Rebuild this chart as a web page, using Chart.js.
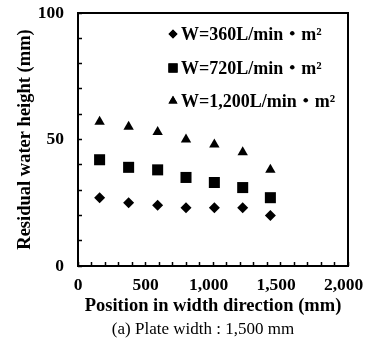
<!DOCTYPE html>
<html>
<head>
<meta charset="utf-8">
<script src="https://cdn.jsdelivr.net/npm/chart.js@4.4.0/dist/chart.umd.min.js"></script>
<style>
  html, body { margin: 0; padding: 0; background: #fff; }
  #wrap { width: 366px; height: 347px; }
</style>
</head>
<body>
<div id="wrap"><canvas id="chart" width="366" height="347"></canvas></div>
<script>
// Data
const positions = [160, 375, 590, 800, 1010, 1220, 1425];
const w360 = [27, 25, 24, 23, 23, 23, 20];
const w720 = [42, 39, 38, 35, 33, 31, 27];
const w1200 = [57, 55, 53, 50, 48, 45, 38];
const seriesLabels = ['W=360L/min・m²', 'W=720L/min・m²', 'W=1,200L/min・m²'];
const yLabeled = [0, 50, 100];
const xLabeled = [0, 500, 1000, 1500, 2000];

const serif = "'Liberation Serif', 'Times New Roman', 'Noto Sans CJK JP', serif";

function toPoints(values) {
    return positions.map((x, i) => ({ x: x, y: values[i] }));
}

// Frame around the plot area
const framePlugin = {
    id: 'frame',
    afterDraw(chart) {
        const { ctx, chartArea } = chart;
        ctx.save();
        ctx.strokeStyle = '#000';
        ctx.lineWidth = 2;
        ctx.strokeRect(chartArea.left, chartArea.top,
            chartArea.right - chartArea.left, chartArea.bottom - chartArea.top);
        ctx.restore();
    }
};

// Legend inside the plot, top right
const insideLegend = {
    id: 'insideLegend',
    afterDraw(chart) {
        const ctx = chart.ctx;
        const rows = [34, 68, 101];
        ctx.save();
        chart.data.datasets.forEach((ds, i) => {
            const y = rows[i];
            ctx.fillStyle = '#000';
            ctx.strokeStyle = '#000';
            Chart.helpers.drawPoint(ctx, {
                pointStyle: ds.pointStyle,
                radius: ds.legendRadius,
                borderWidth: 0
            }, 173, y);
            ctx.fill();
            ctx.font = 'bold 18px ' + serif;
            ctx.textAlign = 'left';
            ctx.textBaseline = 'middle';
            ctx.fillText(ds.label, 181, y + 1);
        });
        ctx.restore();
    }
};

// Caption under the chart
const captionPlugin = {
    id: 'caption',
    afterDraw(chart) {
        const ctx = chart.ctx;
        ctx.save();
        ctx.fillStyle = '#000';
        ctx.font = '17px ' + serif;
        ctx.textAlign = 'center';
        ctx.textBaseline = 'middle';
        ctx.fillText('(a) Plate width : 1,500 mm', 203, 330);
        ctx.restore();
    }
};

const ctx = document.getElementById('chart').getContext('2d');
new Chart(ctx, {
    type: 'scatter',
    data: {
        datasets: [
            {
                label: seriesLabels[0],
                data: toPoints(w360),
                pointStyle: 'rectRot',
                pointRadius: 5.5,
                legendRadius: 4.5,
                backgroundColor: '#000',
                borderColor: '#000',
                borderWidth: 0
            },
            {
                label: seriesLabels[1],
                data: toPoints(w720),
                pointStyle: 'rect',
                pointRadius: 7.8,
                legendRadius: 6.5,
                backgroundColor: '#000',
                borderColor: '#000',
                borderWidth: 0
            },
            {
                label: seriesLabels[2],
                data: toPoints(w1200),
                pointStyle: 'triangle',
                pointRadius: 6,
                legendRadius: 5.2,
                backgroundColor: '#000',
                borderColor: '#000',
                borderWidth: 0
            }
        ]
    },
    options: {
        responsive: false,
        animation: false,
        layout: { padding: { top: 13, right: 18, left: 0, bottom: 0 } },
        plugins: {
            legend: { display: false },
            tooltip: { enabled: false }
        },
        scales: {
            x: {
                type: 'linear',
                min: 0,
                max: 2000,
                afterFit: function(scale) {
                    scale.height = 81;
                    scale.paddingLeft = 0;
                    scale.paddingRight = 0;
                },
                afterBuildTicks: function(scale) {
                    const t = [];
                    for (let v = 0; v <= 2000; v += 100) t.push({ value: v });
                    scale.ticks = t;
                },
                ticks: {
                    autoSkip: false,
                    maxRotation: 0,
                    padding: 13,
                    color: '#000',
                    font: { family: serif, size: 17.5, weight: 'bold' },
                    callback: function(value) {
                        if (!xLabeled.includes(value)) return '';
                        // the source figure sets the comma labels slightly left of their tick
                        return value >= 1000 ? value.toLocaleString('en-US') + '\u2002' : String(value);
                    }
                },
                grid: {
                    drawOnChartArea: false,
                    tickLength: -4,
                    tickWidth: 1.5,
                    tickColor: '#000'
                },
                border: { display: false },
                title: {
                    display: true,
                    text: 'Position in width direction (mm)',
                    color: '#000',
                    font: { family: serif, size: 18.5, weight: 'bold' },
                    padding: { top: 0, bottom: 30 }
                }
            },
            y: {
                type: 'linear',
                min: 0,
                max: 100,
                afterFit: function(scale) {
                    scale.width = 78;
                    scale.paddingTop = 0;
                    scale.paddingBottom = 0;
                },
                afterBuildTicks: function(scale) {
                    const t = [];
                    for (let v = 0; v <= 100; v += 10) t.push({ value: v });
                    scale.ticks = t;
                },
                ticks: {
                    autoSkip: false,
                    padding: 18,
                    color: '#000',
                    font: { family: serif, size: 17.5, weight: 'bold' },
                    callback: function(value) {
                        return yLabeled.includes(value) ? String(value) : '';
                    }
                },
                grid: {
                    drawOnChartArea: false,
                    tickLength: -4,
                    tickWidth: 1.5,
                    tickColor: '#000'
                },
                border: { display: false },
                title: {
                    display: true,
                    text: 'Residual water height (mm)',
                    color: '#000',
                    font: { family: serif, size: 18.5, weight: 'bold' },
                    padding: { top: 14, bottom: 0 }
                }
            }
        }
    },
    plugins: [framePlugin, insideLegend, captionPlugin]
});
</script>
</body>
</html>
